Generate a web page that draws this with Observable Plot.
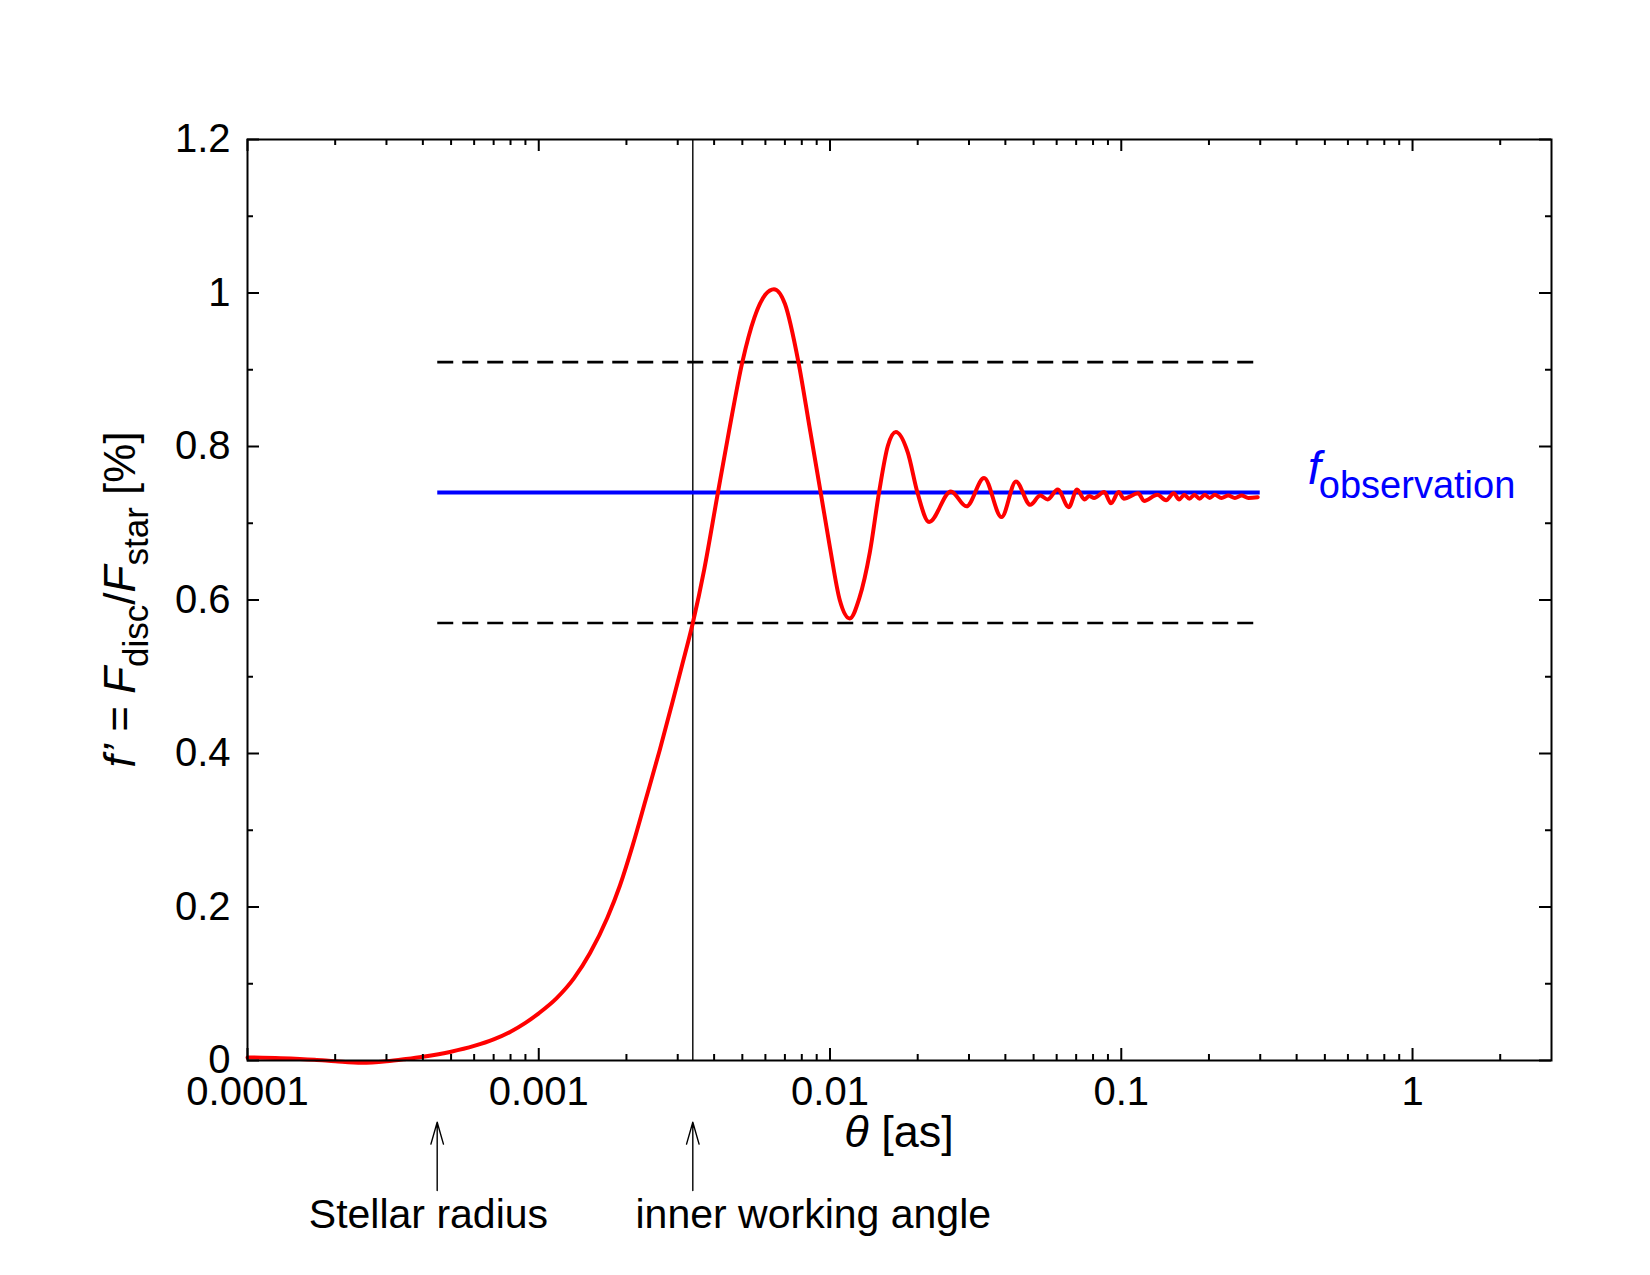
<!DOCTYPE html>
<html>
<head>
<meta charset="utf-8">
<script src="https://cdn.jsdelivr.net/npm/d3@7"></script>
<script src="https://cdn.jsdelivr.net/npm/@observablehq/plot@0.6"></script>
<style>
  html, body { margin: 0; padding: 0; background: #fff; }
  svg { display: block; }
</style>
</head>
<body>
<div id="chart"></div>
<script>
// ---- data ----
const theta = [
  1.0e-4, 1.3e-4, 1.7e-4, 2.0e-4, 2.47e-4, 3.0e-4, 3.5e-4, 4.0e-4, 5.0e-4, 6.0e-4,
  7.0e-4, 8.0e-4, 9.0e-4, 1.0e-3, 1.15e-3, 1.32e-3, 1.5e-3, 1.72e-3, 1.9e-3, 2.1e-3,
  2.33e-3, 2.6e-3, 2.86e-3, 3.1e-3, 3.38e-3, 3.7e-3, 4.1e-3, 4.5e-3, 5.0e-3, 5.5e-3,
  6.0e-3, 6.42e-3, 7.0e-3, 7.79e-3, 8.5e-3, 9.29e-3, 1.0e-2, 1.08e-2, 1.169e-2, 1.26e-2,
  1.37e-2, 1.473e-2, 1.58e-2, 1.682e-2, 1.85e-2, 1.996e-2, 2.189e-2, 2.6e-2, 2.94e-2, 3.38e-2,
  3.88e-2, 4.35e-2, 4.87e-2, 5.27e-2, 5.59e-2, 6.05e-2, 6.6e-2, 7.05e-2, 7.47e-2, 7.76e-2,
  8.07e-2, 8.74e-2, 9.22e-2, 9.8e-2, 0.102, 0.1144, 0.1198, 0.133, 0.1425, 0.1513,
  0.158, 0.1646, 0.1713, 0.1783, 0.1857, 0.1933, 0.2012, 0.2094, 0.2208, 0.2329,
  0.2456, 0.259, 0.2732, 0.2941
];
const fPrime = [
  0.004, 0.003, 0.001, -0.001, -0.003, -0.001, 0.002, 0.005, 0.0115, 0.019,
  0.0275, 0.0375, 0.049, 0.0615, 0.081, 0.107, 0.140, 0.186, 0.228, 0.280,
  0.340, 0.404, 0.463, 0.514, 0.57, 0.64, 0.735, 0.82, 0.91, 0.968,
  0.998, 1.005, 0.986, 0.91, 0.826, 0.74, 0.668, 0.600, 0.576, 0.602,
  0.662, 0.74, 0.801, 0.819, 0.792, 0.74, 0.7015, 0.7415, 0.722, 0.759,
  0.708, 0.7545, 0.724, 0.736, 0.731, 0.744, 0.721, 0.744, 0.731, 0.7354,
  0.733, 0.7406, 0.726, 0.7406, 0.732, 0.739, 0.729, 0.737, 0.730, 0.739,
  0.731, 0.737, 0.732, 0.737, 0.732, 0.737, 0.733, 0.737, 0.733, 0.736,
  0.733, 0.736, 0.733, 0.734
];
const fObservation = 0.74;
const fBand = [0.57, 0.91];
const levelRange = [4.5e-4, 0.3];
const innerWorkingAngle = 0.00338;
const stellarRadius = 4.48e-4;
const annotationTheta = [stellarRadius, innerWorkingAngle];
const annotationLabelTheta = [4.18e-4, 8.76e-3];
const annotationLabels = ["Stellar radius", "inner working angle"];
const obsLabelTheta = 0.437;

const xMajorTicks = [1e-4, 1e-3, 1e-2, 1e-1, 1];
const xTickLabels = ["0.0001", "0.001", "0.01", "0.1", "1"];
const xMinorMultipliers = [2, 3, 4, 5, 6, 7, 8, 9];
const xMinorTicks = xMajorTicks.flatMap(d => xMinorMultipliers.map(m => m * d)).filter(v => v < 3);
const yMajorTicks = [0, 0.2, 0.4, 0.6, 0.8, 1, 1.2];
const yTickLabels = ["0", "0.2", "0.4", "0.6", "0.8", "1", "1.2"];
const yMinorTicks = [0.1, 0.3, 0.5, 0.7, 0.9, 1.1];

// ---- tables built from the arrays ----
const curve = theta.map((t, i) => ({theta: t, f: fPrime[i]}));
const annotations = annotationTheta.map((t, i) => ({theta: t, labelAt: annotationLabelTheta[i], label: annotationLabels[i]}));

// ---- layout ----
const W = 1650, H = 1275;
const mL = 247, mR = 99, mT = 139, mB = 215;
const pw = W - mL - mR, ph = H - mT - mB;
const majorLen = 12, minorLen = 6;
const font = "'Liberation Sans', Arial, Helvetica, sans-serif";
const arrowTail = -0.1694, arrowTip = -0.0804, labelBase = -0.2176;

const xFmt = d => xTickLabels[xMajorTicks.findIndex(v => Math.abs(v - d) / d < 1e-6)] ?? "";
const yFmt = d => yTickLabels[yMajorTicks.findIndex(v => Math.abs(v - d) < 1e-9)] ?? "";

const chart = Plot.plot({
  width: W, height: H,
  marginLeft: mL, marginRight: mR, marginTop: mT, marginBottom: mB,
  style: {fontFamily: font, background: "white", color: "black", overflow: "visible"},
  x: {type: "log", domain: [1e-4, 3]},
  y: {domain: [0, 1.2]},
  marks: [
    // dashed band
    Plot.ruleY(fBand, {y: d => d, x1: levelRange[0], x2: levelRange[1], stroke: "black", strokeWidth: 2.6, strokeDasharray: "16,9"}),
    // inner working angle line
    Plot.ruleX([innerWorkingAngle], {x: d => d, stroke: "black", strokeWidth: 1.4}),
    // observation level
    Plot.ruleY([fObservation], {y: d => d, x1: levelRange[0], x2: levelRange[1], stroke: "#0000ff", strokeWidth: 4}),
    // model curve
    Plot.line(curve, {x: "theta", y: "f", stroke: "#ff0000", strokeWidth: 4, curve: "monotone-x"}),
    // inward ticks, all four sides
    Plot.tickX(xMajorTicks, {x: d => d, insetTop: ph - majorLen, stroke: "black", strokeWidth: 2}),
    Plot.tickX(xMajorTicks, {x: d => d, insetBottom: ph - majorLen, stroke: "black", strokeWidth: 2}),
    Plot.tickX(xMinorTicks, {x: d => d, insetTop: ph - minorLen, stroke: "black", strokeWidth: 2}),
    Plot.tickX(xMinorTicks, {x: d => d, insetBottom: ph - minorLen, stroke: "black", strokeWidth: 2}),
    Plot.tickY(yMajorTicks, {y: d => d, insetRight: pw - majorLen, stroke: "black", strokeWidth: 2}),
    Plot.tickY(yMajorTicks, {y: d => d, insetLeft: pw - majorLen, stroke: "black", strokeWidth: 2}),
    Plot.tickY(yMinorTicks, {y: d => d, insetRight: pw - minorLen, stroke: "black", strokeWidth: 2}),
    Plot.tickY(yMinorTicks, {y: d => d, insetLeft: pw - minorLen, stroke: "black", strokeWidth: 2}),
    Plot.frame({stroke: "black", strokeWidth: 2}),
    // tick labels
    Plot.axisX({ticks: xMajorTicks, tickFormat: xFmt, tickSize: 0, tickPadding: 16, fontSize: 40, label: null}),
    Plot.axisY({ticks: yMajorTicks, tickFormat: yFmt, tickSize: 0, tickPadding: 17, fontSize: 40, label: null}),
    // f_observation label
    Plot.text([obsLabelTheta], {x: d => d, y: fObservation, text: () => "f", dy: -9, textAnchor: "start", lineAnchor: "bottom", fontSize: 47, fontStyle: "italic", fill: "#0000ff"}),
    Plot.text([obsLabelTheta], {x: d => d, y: fObservation, text: () => "observation", dx: 11, dy: 5, textAnchor: "start", lineAnchor: "bottom", fontSize: 38, fill: "#0000ff"}),
    // annotation arrows & labels below the axis
    Plot.arrow(annotations, {x1: "theta", x2: "theta", y1: () => arrowTail, y2: () => arrowTip, stroke: "black", strokeWidth: 1.4, headAngle: 32, headLength: 30}),
    Plot.text(annotations, {x: "labelAt", y: () => labelBase, text: "label", fontSize: 41, lineAnchor: "bottom", textAnchor: "middle", fill: "black"})
  ]
});

// axis titles with italic / subscript parts
const svg = d3.select(chart);
const xl = svg.append("text")
  .attr("x", mL + pw / 2).attr("y", 1147)
  .attr("text-anchor", "middle").attr("font-size", 45).attr("font-family", font).attr("fill", "black");
xl.append("tspan").attr("font-style", "italic").text("θ");
xl.append("tspan").text(" [as]");

const yl = svg.append("text")
  .attr("transform", `translate(135,${mT + ph / 2}) rotate(-90)`)
  .attr("text-anchor", "middle").attr("font-size", 44).attr("font-family", font).attr("fill", "black");
yl.append("tspan").attr("font-style", "italic").text("f’");
yl.append("tspan").text(" = ");
yl.append("tspan").attr("font-style", "italic").text("F");
yl.append("tspan").attr("font-size", 35).attr("dy", 13).text("disc");
yl.append("tspan").attr("dy", -13).text("/");
yl.append("tspan").attr("font-style", "italic").text("F");
yl.append("tspan").attr("font-size", 35).attr("dy", 13).text("star");
yl.append("tspan").attr("dy", -13).text(" [%]");

document.getElementById("chart").appendChild(chart);
</script>
</body>
</html>
